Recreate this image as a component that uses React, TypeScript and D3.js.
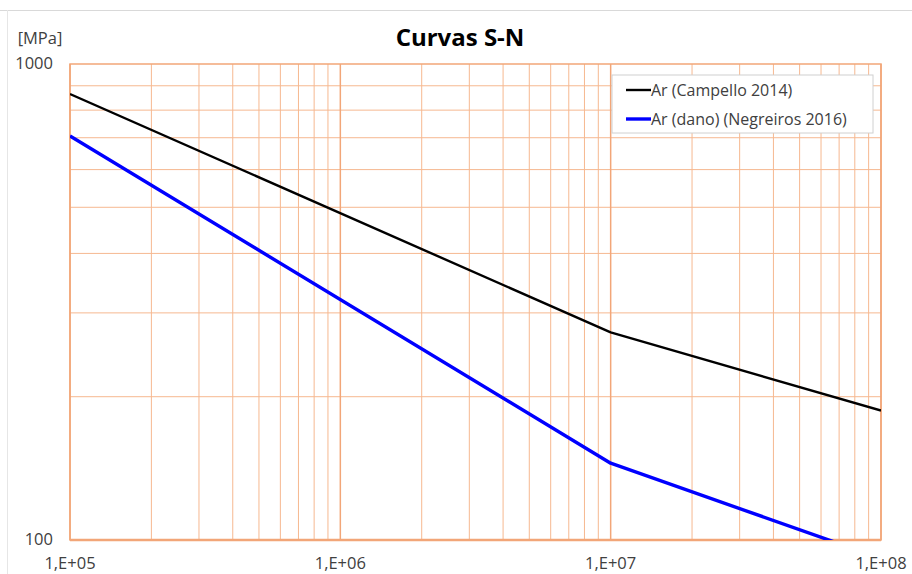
import React from "react";
import * as d3 from "d3";

const seriesNames = ["Ar (Campello 2014)", "Ar (dano) (Negreiros 2016)"];
const seriesColors = ["#000000", "#0000FF"];
const seriesWidths = [2.4, 3.4];
const blackN = [1e5, 1e7, 1e8];
const blackS = [865, 273, 187];
const blueN = [1e5, 1e7, 1e8];
const blueS = [706, 145, 91.5];
const xTicks = [1e5, 1e6, 1e7, 1e8];
const xTickLabels = ["1,E+05", "1,E+06", "1,E+07", "1,E+08"];
const yTicks = [100, 1000];
const yTickLabels = ["100", "1000"];

const W = 912, H = 574;
const L = 70, R = 881, T = 64, B = 540;
const FONT = "'Open Sans', sans-serif";

export default function App() {
  const x = d3.scaleLog().domain([1e5, 1e8]).range([L, R]);
  const y = d3.scaleLog().domain([100, 1000]).range([B, T]);

  const minorX: number[] = [];
  for (let e = 5; e < 8; e++) for (let k = 2; k <= 9; k++) minorX.push(k * Math.pow(10, e));
  const minorY: number[] = [];
  for (let k = 2; k <= 9; k++) minorY.push(k * 100);

  const line = d3.line<[number, number]>().x((d) => x(d[0])).y((d) => y(d[1]));
  const series = [
    blackN.map((n, i) => [n, blackS[i]] as [number, number]),
    blueN.map((n, i) => [n, blueS[i]] as [number, number]),
  ];

  const grid = "#F6B890";
  const major = "#F2A678";

  return (
    <svg width={W} height={H} style={{ position: "absolute", left: 0, top: 0, background: "#fff" }}>
      <defs>
        <clipPath id="plot">
          <rect x={L} y={T} width={R - L} height={B - T} />
        </clipPath>
      </defs>
      <line x1={0} x2={W} y1={10.5} y2={10.5} stroke="#d9d9d9" strokeWidth={1} />
      <line x1={7.5} x2={7.5} y1={10} y2={H} stroke="#e6e6e6" strokeWidth={1} />
      {minorX.map((v, i) => (
        <line key={"mx" + i} x1={x(v)} x2={x(v)} y1={T} y2={B} stroke={grid} strokeWidth={1} />
      ))}
      {minorY.map((v, i) => (
        <line key={"my" + i} x1={L} x2={R} y1={y(v)} y2={y(v)} stroke={grid} strokeWidth={1} />
      ))}
      {xTicks.map((v, i) => (
        <line key={"Mx" + i} x1={x(v)} x2={x(v)} y1={T} y2={B} stroke={major} strokeWidth={1.5} />
      ))}
      <rect x={L} y={T} width={R - L} height={B - T} fill="none" stroke={major} strokeWidth={1.5} />
      <line x1={L} x2={R} y1={B} y2={B} stroke={major} strokeWidth={2.5} />
      <g clipPath="url(#plot)">
        {series.map((s, i) => (
          <path key={i} d={line(s) || ""} fill="none" stroke={seriesColors[i]} strokeWidth={seriesWidths[i]} strokeLinejoin="round" />
        ))}
      </g>
      {yTicks.map((v, i) => (
        <text key={"yt" + i} x={53} y={y(v) - 1} dy="0.35em" textAnchor="end" fontFamily={FONT} fontSize={16.5} fill="#404040">
          {yTickLabels[i]}
        </text>
      ))}
      {xTicks.map((v, i) => (
        <text key={"xt" + i} x={x(v)} y={563} dy="0.35em" textAnchor="middle" fontFamily={FONT} fontSize={16.5} fill="#404040">
          {xTickLabels[i]}
        </text>
      ))}
      <text x={40} y={38} dy="0.35em" textAnchor="middle" fontFamily={FONT} fontSize={16.5} fill="#404040">[MPa]</text>
      <text x={460} y={38} dy="0.35em" textAnchor="middle" fontFamily={FONT} fontSize={24} fontWeight="bold" fill="#000">Curvas S-N</text>
      <g>
        <rect x={612} y={75} width={261} height={58} fill="#fff" stroke="#d0d0d0" strokeWidth={1} />
        {seriesNames.map((nm, i) => (
          <g key={"lg" + i}>
            <line x1={626} x2={651} y1={90 + i * 29} y2={90 + i * 29} stroke={seriesColors[i]} strokeWidth={seriesWidths[i]} />
            <text x={651} y={90 + i * 29} dy="0.35em" fontFamily={FONT} fontSize={16} fill="#404040">{nm}</text>
          </g>
        ))}
      </g>
    </svg>
  );
}
